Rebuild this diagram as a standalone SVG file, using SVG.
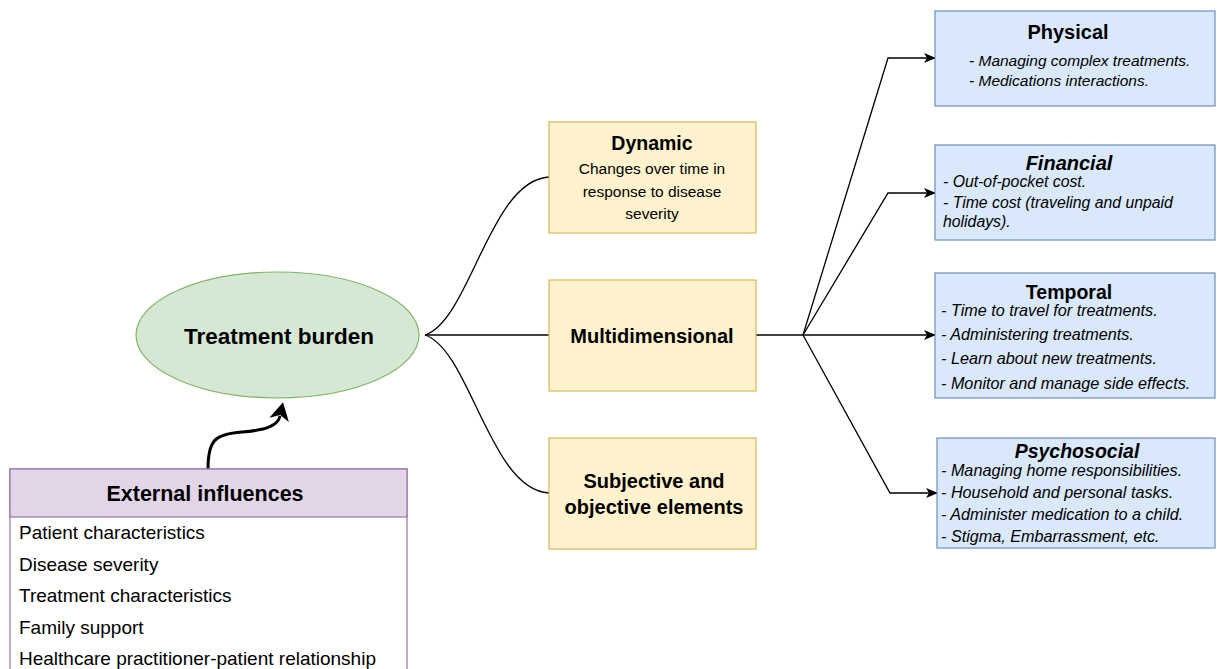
<svg xmlns="http://www.w3.org/2000/svg" width="1217" height="669" viewBox="0 0 1217 669">
<style>
text{font-family:"Liberation Sans",Arial,Helvetica,sans-serif;fill:#000}
.b{font-weight:bold}
.bi{font-weight:bold;font-style:italic}
.it{font-style:italic;font-size:15.5px}
.c{text-anchor:middle}
.yel{fill:#fff2cc;stroke:#d6b656;stroke-width:1.2}
.blu{fill:#dae8fc;stroke:#6c8ebf;stroke-width:1.2}
.ln{fill:none;stroke:#000;stroke-width:1.3}
</style>
<defs>
<marker id="sa" viewBox="0 0 12 10" refX="11" refY="5" markerWidth="12" markerHeight="10" orient="auto" markerUnits="userSpaceOnUse"><path d="M0,0 L12,5 L0,10 L3,5 Z" fill="#000"/></marker>
<marker id="ba" viewBox="0 0 18 20" refX="4" refY="10" markerWidth="18" markerHeight="20" orient="auto" markerUnits="userSpaceOnUse"><path d="M0,0 L18,10 L0,20 L5,10 Z" fill="#000"/></marker>
</defs>
<rect width="1217" height="669" fill="#fff"/>
<g id="connectors">
<path class="ln" d="M425,335 C470,320 490,180 549,177"/>
<path class="ln" d="M425,335 H549"/>
<path class="ln" d="M425,335 C470,350 490,490 549,493"/>
<path class="ln" d="M756,335 H803"/>
<path class="ln" d="M803,335 L888,58 H935" marker-end="url(#sa)"/>
<path class="ln" d="M803,335 L888,193 H935" marker-end="url(#sa)"/>
<path class="ln" d="M803,335 H935" marker-end="url(#sa)"/>
<path class="ln" d="M803,335 L890,493 H937" marker-end="url(#sa)"/>
<path d="M208,469 C208,440 215,434 242,432 C268,430 278,425 280,416" fill="none" stroke="#000" stroke-width="3" marker-end="url(#ba)"/>
</g>
<g id="treatment-burden">
<ellipse cx="277.5" cy="335" rx="141.5" ry="63" fill="#d5e8d4" stroke="#82b366" stroke-width="1.2"/>
<text class="b c" x="279" y="344" font-size="22.5">Treatment burden</text>
</g>
<g id="external-influences">
<rect x="10" y="469" width="397" height="210" fill="#fff" stroke="#9673a6" stroke-width="1.2"/>
<rect x="10" y="469" width="397" height="48" fill="#e1d5e7" stroke="#9673a6" stroke-width="1.2"/>
<text class="b c" x="205" y="501" font-size="21.5">External influences</text>
<text x="19" y="539" font-size="19">Patient characteristics</text>
<text x="19" y="571" font-size="19">Disease severity</text>
<text x="19" y="602" font-size="19">Treatment characteristics</text>
<text x="19" y="634" font-size="19">Family support</text>
<text x="19" y="665" font-size="19">Healthcare practitioner-patient relationship</text>
</g>
<g id="dynamic">
<rect class="yel" x="549" y="122" width="207" height="111"/>
<text class="b c" x="652" y="150" font-size="19.5">Dynamic</text>
<text class="c" x="652" y="174" font-size="15.5">Changes over time in</text>
<text class="c" x="652" y="196.5" font-size="15.5">response to disease</text>
<text class="c" x="652" y="219" font-size="15.5">severity</text>
</g>
<g id="multidimensional">
<rect class="yel" x="549" y="280" width="207" height="111"/>
<text class="b c" x="652" y="343" font-size="20">Multidimensional</text>
</g>
<g id="subjective">
<rect class="yel" x="549" y="438" width="207" height="111"/>
<text class="b c" x="654" y="488" font-size="20">Subjective and</text>
<text class="b c" x="654" y="514" font-size="20">objective elements</text>
</g>
<g id="physical">
<rect class="blu" x="935" y="11" width="280" height="95"/>
<text class="b c" x="1068" y="39" font-size="20">Physical</text>
<text class="it" x="969" y="65.5" font-size="15.2">- Managing complex treatments.</text>
<text class="it" x="969" y="85.5" font-size="15.2">- Medications interactions.</text>
</g>
<g id="financial">
<rect class="blu" x="935" y="145" width="280" height="95"/>
<text class="bi c" x="1069" y="170" font-size="20">Financial</text>
<text class="it" x="943" y="187" style="font-size:15.8px">- Out-of-pocket cost.</text>
<text class="it" x="943" y="207.5" style="font-size:15.8px">- Time cost (traveling and unpaid</text>
<text class="it" x="943" y="227" style="font-size:15.8px">holidays).</text>
</g>
<g id="temporal">
<rect class="blu" x="935" y="273" width="280" height="125"/>
<text class="b c" x="1069" y="299" font-size="19.5">Temporal</text>
<text class="it" x="941" y="316" style="font-size:16.2px">- Time to travel for treatments.</text>
<text class="it" x="941" y="340" style="font-size:16.2px">- Administering treatments.</text>
<text class="it" x="941" y="363.5" style="font-size:16.2px">- Learn about new treatments.</text>
<text class="it" x="941" y="389" style="font-size:16.2px">- Monitor and manage side effects.</text>
</g>
<g id="psychosocial">
<rect class="blu" x="937" y="438" width="278" height="110"/>
<text class="bi c" x="1077" y="458" font-size="19.5">Psychosocial</text>
<text class="it" x="941" y="476" style="font-size:16.2px">- Managing home responsibilities.</text>
<text class="it" x="941" y="497.5" style="font-size:16.2px">- Household and personal tasks.</text>
<text class="it" x="941" y="519.5" style="font-size:16.2px">- Administer medication to a child.</text>
<text class="it" x="941" y="541.5" style="font-size:16.2px">- Stigma, Embarrassment, etc.</text>
</g>
</svg>
